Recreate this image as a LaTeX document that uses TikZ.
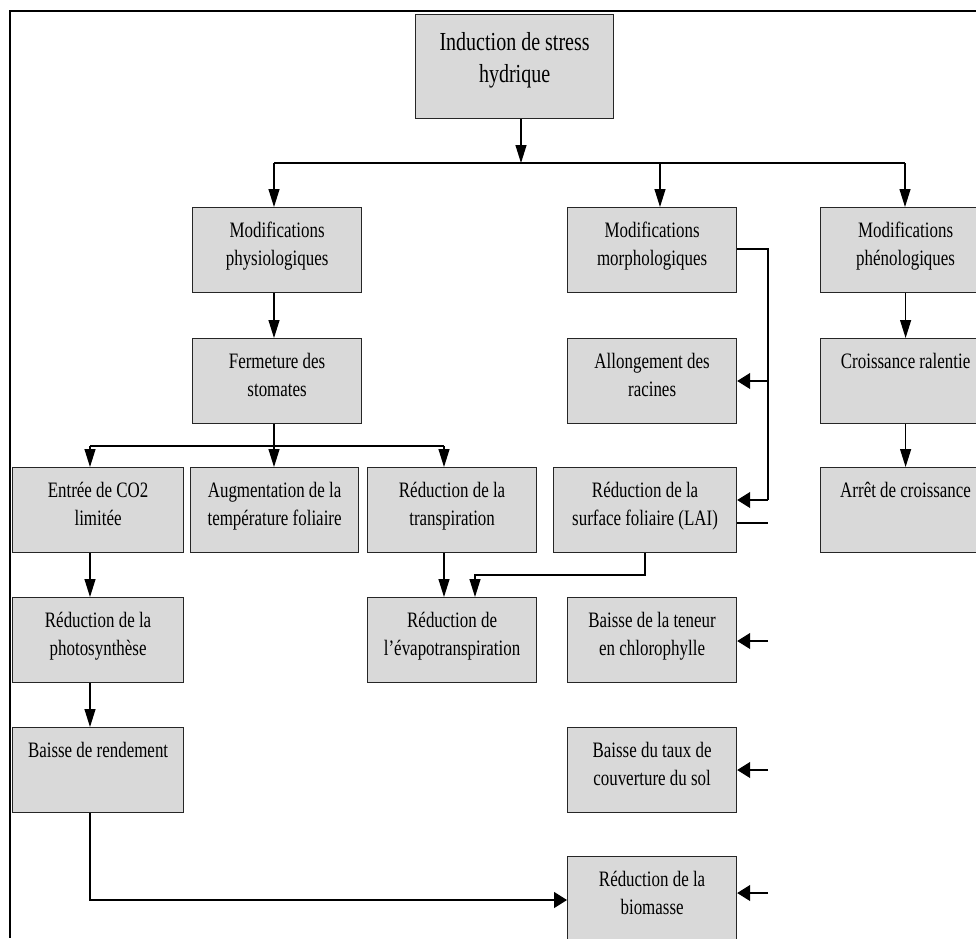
\documentclass[tikz,border=0pt]{standalone}
\usepackage{fontspec}
\setmainfont{Liberation Serif}[FakeStretch=0.77]
\usetikzlibrary{arrows.meta}
\definecolor{boxgray}{RGB}{217,217,217}

\tikzset{
  box/.style={draw=black!85, fill=boxgray, line width=1.2pt, minimum width=169pt,
    inner sep=0pt, align=center, text height=58pt, text depth=27pt,
    font=\fontsize{22}{28}\selectfont, anchor=north west},
  oneline/.style={text height=30pt, text depth=55pt},
  link/.style={line width=1.2pt},
  down/.style={link, -{Triangle[length=18pt,width=11pt]}},
  toside/.style={link, -{Triangle[length=13pt,width=16pt]}}
}

\begin{document}
\begin{tikzpicture}[x=1pt, y=-1pt]
    \useasboundingbox (0,0) rectangle (976,938);
    \clip (0,0) rectangle (976,938);

    % Outer frame (cut at the right and bottom)
    \draw[line width=1.2pt] (976,11) -- (10,11) -- (10,938);

    % Top box
    \node[box, minimum width=198pt, text height=68pt, text depth=36pt,
      font=\fontsize{26}{32}\selectfont] (stress) at (415,14) {Induction de stress\\hydrique};

    % Second row: the three kinds of modifications
    \node[box] (physio) at (192,207) {Modifications\\physiologiques};
    \node[box] (morpho) at (567,207) {Modifications\\morphologiques};
    \node[box, minimum width=170pt] (pheno) at (820,207) {Modifications\\phénologiques};

    % Third row
    \node[box] (fermeture) at (192,338) {Fermeture des\\stomates};
    \node[box] (allong) at (567,338) {Allongement des\\racines};
    \node[box, oneline, minimum width=170pt] (croiss) at (820,338) {Croissance ralentie};

    % Fourth row
    \node[box, minimum width=171pt] (entree) at (12,467) {Entrée de CO2\\limitée};
    \node[box, minimum width=168pt] (augment) at (190,467) {Augmentation de la\\température foliaire};
    \node[box] (transp) at (367,467) {Réduction de la\\transpiration};
    \node[box, minimum width=183pt] (surface) at (553,467) {Réduction de la\\surface foliaire (LAI)};
    \node[box, oneline, minimum width=170pt] (arret) at (820,467) {Arrêt de croissance};

    % Fifth row
    \node[box, minimum width=171pt] (photo) at (12,597) {Réduction de la\\photosynthèse};
    \node[box] (evapo) at (367,597) {Réduction de\\l’évapotranspiration};
    \node[box] (teneur) at (567,597) {Baisse de la teneur\\en chlorophylle};

    % Last rows
    \node[box, oneline, minimum width=171pt] (rendement) at (12,727) {Baisse de rendement};
    \node[box] (taux) at (567,727) {Baisse du taux de\\couverture du sol};
    \node[box] (biomasse) at (567,856) {Réduction de la\\biomasse};

    % First branching
    \coordinate (b1l) at (274,163);
    \coordinate (b1m) at (660,163);
    \coordinate (b1r) at (905,163);
    \coordinate (b1c) at (521,163);
    \draw[down] (stress.south -| b1c) -- (b1c);
    \draw[link] (b1l) -- (b1r);
    \draw[down] (b1l) -- (b1l |- physio.north);
    \draw[down] (b1m) -- (b1m |- morpho.north);
    \draw[down] (b1r) -- (b1r |- pheno.north);

    % Physiological branch
    \draw[down] (physio.south -| b1l) -- (fermeture.north -| b1l);
    \coordinate (b2l) at (90,446);
    \coordinate (b2m) at (274,446);
    \coordinate (b2r) at (444,446);
    \draw[link] (fermeture.south -| b2m) -- (b2m);
    \draw[link] (b2l) -- (b2r);
    \draw[down] (b2l) -- (b2l |- entree.north);
    \draw[down] (b2m) -- (b2m |- augment.north);
    \draw[down] (b2r) -- (b2r |- transp.north);
    \draw[down] (entree.south -| b2l) -- (photo.north -| b2l);
    \draw[down] (photo.south -| b2l) -- (rendement.north -| b2l);
    \draw[down] (transp.south -| b2r) -- (evapo.north -| b2r);

    % Morphological branch
    \coordinate (m1) at (768,249);
    \coordinate (m2) at (768,381);
    \coordinate (m3) at (768,500);
    \draw[link] (morpho.east |- m1) -- (m1) -- (m3);
    \draw[toside] (m2) -- (m2 -| allong.east);
    \draw[toside] (m3) -- (m3 -| surface.east);
    \coordinate (s1) at (768,523);
    \draw[link] (surface.east |- s1) -- (s1);
    \coordinate (s2) at (645,575);
    \coordinate (s3) at (475,575);
    \draw[down] (surface.south -| s2) -- (s2) -- (s3) -- (s3 |- evapo.north);

    % Phenological branch
    \draw[down] (pheno.south) -- (croiss.north);
    \draw[down] (croiss.south) -- (arret.north);

    % Yield to biomass
    \coordinate (r1) at (90,900);
    \draw[toside] (rendement.south -| r1) -- (r1) -- (r1 -| biomasse.west);

    % Short arrows on the right
    \foreach \n/\y in {teneur/641, taux/770, biomasse/893} {
      \coordinate (t\n) at (768,\y);
      \draw[toside] (t\n) -- (t\n -| \n.east);
    }
\end{tikzpicture}
\end{document}
